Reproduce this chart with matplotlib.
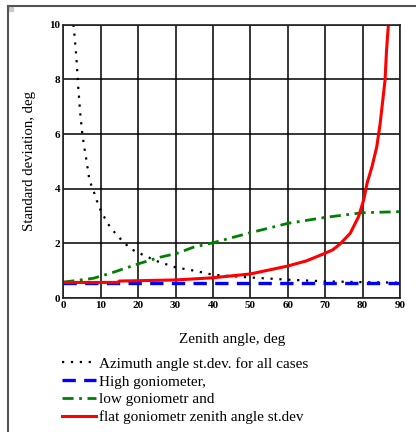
import matplotlib
matplotlib.use("Agg")
import matplotlib.pyplot as plt
from matplotlib.lines import Line2D
from matplotlib.patches import Rectangle

plt.rcParams['font.family'] = ['Liberation Serif', 'DejaVu Serif']

# ---- data ----
az_x = [2.7, 3.0, 3.5, 4.0, 4.5, 5.0, 5.5, 6.0, 7.0, 8.0, 9.0, 10.0, 12.0, 14.0,
        16.0, 18.0, 20.0, 25.0, 30.0, 35.0, 40.0, 50.0, 60.0, 70.0, 80.0, 90.0]
az_y = [10.0, 9.6, 8.8, 7.7, 6.8, 6.1, 5.6, 5.2, 4.3, 3.95, 3.55, 3.2, 2.7, 2.35,
        2.06, 1.8, 1.66, 1.35, 1.12, 1.0, 0.85, 0.75, 0.67, 0.61, 0.58, 0.56]

high_x = [0, 10, 20, 30, 40, 50, 60, 70, 80, 90]
high_y = [0.55, 0.55, 0.55, 0.55, 0.55, 0.55, 0.55, 0.55, 0.55, 0.55]

low_x = [0, 8, 12.5, 20.5, 25.8, 30.3, 34.8, 40, 50, 60, 70, 80, 90]
low_y = [0.58, 0.72, 0.9, 1.27, 1.49, 1.63, 1.86, 2.02, 2.39, 2.73, 2.95, 3.12, 3.16]

flat_x = [0, 14.5, 15, 30, 40, 50, 60, 65, 69.5, 72, 74, 76.7, 78.9, 80.3, 81.2,
          82.5, 83.8, 84.7, 85.4, 86.0, 86.4, 86.9]
flat_y = [0.57, 0.57, 0.62, 0.66, 0.74, 0.88, 1.17, 1.36, 1.61, 1.76, 1.98, 2.37,
          2.97, 3.59, 4.2, 4.8, 5.54, 6.39, 7.24, 7.97, 9.07, 10.0]

labels = ["Azimuth angle st.dev. for all cases",
          "High goniometer,",
          "low goniometr and",
          "flat goniometr zenith angle st.dev"]
xticks = [0, 10, 20, 30, 40, 50, 60, 70, 80, 90]
yticks = [0, 2, 4, 6, 8, 10]

fig = plt.figure(figsize=(4.16, 4.32), dpi=100)
ax = fig.add_axes([63.3/416, 1-298/432, (400-63.3)/416, (298-24.7)/432])

h1, = ax.plot(az_x, az_y, color='black', lw=1.6, ls=(0, (1, 3)))
h2, = ax.plot(high_x, high_y, color='#0000ff', lw=2.4, ls=(0, (4, 2.5)))
h3, = ax.plot(low_x, low_y, color='#008000', lw=2.0, ls=(0, (4, 2, 1, 2)))
h4, = ax.plot(flat_x, flat_y, color='#ff0000', lw=2.2)

ax.set_xlim(0, 90)
ax.set_ylim(0, 10)
ax.set_xticks(xticks)
ax.set_yticks(yticks)
ax.grid(True, color='black', lw=1.1)
ax.set_axisbelow(True)
ax.tick_params(length=0, labelsize=8, pad=2)
for lab in ax.get_xticklabels() + ax.get_yticklabels():
    lab.set_fontweight('bold')
for s in ax.spines.values():
    s.set_color('#222222')
    s.set_linewidth(1.2)

ax.set_xlabel("Zenith angle, deg", fontsize=11, labelpad=17)
ax.set_ylabel("Standard deviation, deg", fontsize=10.6, labelpad=10)

fig.legend([h1, h2, h3, h4], labels, loc='upper left',
           bbox_to_anchor=(62/416, 1-357/432), frameon=False, fontsize=11,
           handlelength=2.2, handletextpad=0.25, labelspacing=0.27,
           borderpad=0, borderaxespad=0)

# figure frame decoration
fig.add_artist(Line2D([8/416, 1], [1-6/432, 1-6/432], color='#555555', lw=1.5,
                      transform=fig.transFigure))
fig.add_artist(Line2D([8/416, 8/416], [0, 1-6/432], color='#555555', lw=1.5,
                      transform=fig.transFigure))
fig.add_artist(Rectangle((8.5/416, 1-11/432), 4/416, 4/432, color='#cccccc',
                         transform=fig.transFigure))

fig.savefig("out.png", dpi=100)
